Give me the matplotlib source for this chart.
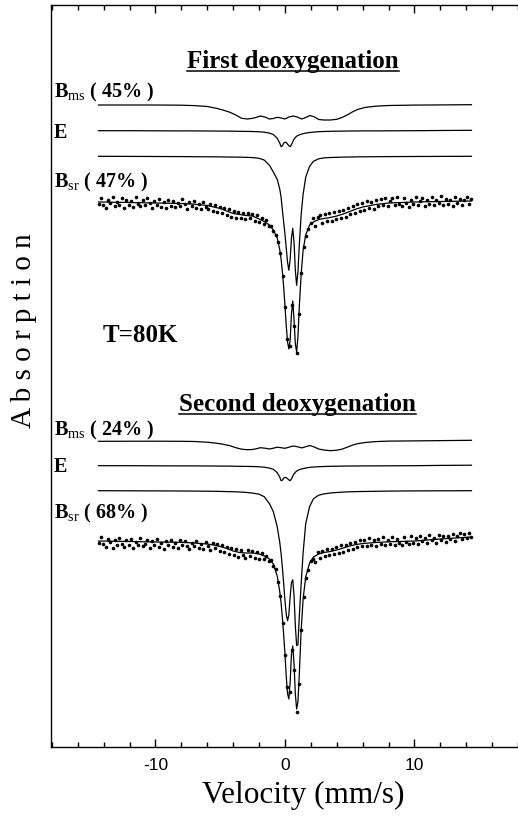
import numpy as np
import matplotlib
matplotlib.use('Agg')
import matplotlib.pyplot as plt
from matplotlib.lines import Line2D
from matplotlib.ticker import MultipleLocator, FixedLocator

plt.rcParams['font.family'] = ['Liberation Serif', 'DejaVu Serif']
plt.rcParams['mathtext.fontset'] = 'custom'
plt.rcParams['mathtext.rm'] = 'Liberation Serif'
plt.rcParams['mathtext.it'] = 'Liberation Serif:italic'
plt.rcParams['mathtext.bf'] = 'Liberation Serif:bold'

# velocity grid of the fitted sub-spectra (mm/s)
v_fit = [-14.4, -12, -10, -8, -7, -6, -5.5, -5, -4.5, -4, -3.5, -3, -2.5, -2, -1.6,
         -1.2, -0.9, -0.6, -0.4, -0.3, -0.2, -0.1, 0.0, 0.1, 0.2, 0.3, 0.4, 0.5, 0.6,
         0.7, 0.8, 0.9, 1.0, 1.1, 1.25, 1.4, 1.6, 1.9, 2.2, 2.6, 3.0, 3.5, 4.0, 4.5,
         5.0, 5.5, 6.0, 7.0, 8.0, 10.0, 12.0, 14.4]
v_bms = [-14.4, -10, -8, -7, -6, -5.3, -4.8, -4.25, -3.8, -3.35, -2.9, -2.5, -2.2, -1.9,
         -1.55, -1.2, -0.9, -0.6, -0.3, 0.0, 0.3, 0.64, 0.95, 1.3, 1.6, 1.93, 2.3, 2.6,
         3.0, 3.5, 4.0, 4.4, 4.8, 5.2, 5.6, 6.2, 7.0, 8.0, 10.0, 14.4]

# absorption below each baseline (arbitrary units), first deoxygenation
bms_1 = [0, 0, 0.2, 0.6, 1.5, 3.3, 5.0, 7.3, 10, 13.3, 14, 13.3, 12.3, 11, 12, 14, 13.5,
         12.3, 13, 14, 12, 11, 12, 14, 12.5, 10.5, 12, 14.5, 15, 15, 14.3, 12.5, 10, 7,
         4.5, 2.4, 1.2, 0.5, 0.1, -0.3]
e_1 = [0, 0, 0.1, 0.2, 0.2, 0.3, 0.3, 0.4, 0.4, 0.5, 0.6, 0.7, 0.8, 1.1, 1.5, 2.4, 3.8,
       7.5, 12.5, 16, 15, 12.5, 11.5, 11.8, 13.5, 15, 16, 14, 11, 8.5, 6.8, 5.5, 4.8,
       4.2, 3.5, 3.0, 2.4, 1.8, 1.4, 1.0, 0.8, 0.6, 0.5, 0.4, 0.3, 0.3, 0.2, 0.2, 0.1,
       0, -0.2, -0.4]
bsr_1 = [0, 0.1, 0.2, 0.3, 0.4, 0.5, 0.5, 0.6, 0.7, 0.8, 0.9, 1.0, 1.3, 2, 3.8, 9, 15.7,
         23, 33, 41, 54, 66, 78, 92, 106, 114, 103, 82, 72, 86, 114, 129, 116, 90, 58,
         38, 21, 10, 5, 2.5, 1.6, 1.2, 1.0, 0.8, 0.7, 0.6, 0.5, 0.4, 0.3, 0.2, 0.1, 0]
fit_1 = [0, 0.5, 1, 1.5, 2.2, 3.5, 5, 6.5, 9, 11.5, 12.5, 13.5, 14, 17, 19.5, 23, 28, 36,
         48, 57, 70, 85, 104, 124, 140, 147, 138, 112, 99, 118, 142, 150, 135, 106, 72,
         48, 33, 23, 20, 17.5, 16.5, 15.5, 14, 12, 9.5, 7, 5, 2.5, 1, 0, -0.5, -1]

# second deoxygenation
bms_2 = [0.6, 0.5, 0.6, 0.8, 1.5, 2.5, 3.5, 5, 7, 8.5, 9, 8.8, 8, 7, 7.5, 8.3, 7.5, 6.5,
         7, 7.6, 6.5, 5.3, 6, 7.2, 6, 4.8, 6.5, 8.3, 9.3, 10, 9.5, 8.5, 6.5, 4.5, 3, 1.8,
         0.9, 0.4, 0.2, -0.4]
e_2 = [0, 0, 0.1, 0.2, 0.2, 0.3, 0.3, 0.4, 0.4, 0.5, 0.6, 0.7, 0.8, 1.1, 1.5, 2.4, 3.6,
       7, 11.5, 15, 14.5, 12.5, 11.7, 12, 13, 14.2, 15, 13.2, 10.5, 8.2, 6.6, 5.4, 4.6,
       4.0, 3.4, 2.9, 2.3, 1.7, 1.3, 1.0, 0.8, 0.6, 0.5, 0.4, 0.3, 0.3, 0.2, 0.2, 0.1,
       0, -0.3, -0.5]
bsr_2 = [0, 0.1, 0.2, 0.3, 0.4, 0.5, 0.6, 0.7, 0.9, 1.0, 1.3, 1.7, 2.4, 3.5, 6, 13, 21,
         36, 52, 63, 77, 93, 110, 124, 130, 124, 106, 92, 89, 105, 135, 155, 154, 127,
         93, 62, 33, 16, 8, 4.5, 3.2, 2.3, 1.8, 1.4, 1.1, 0.9, 0.8, 0.6, 0.4, 0.2, 0.1, 0]
fit_2 = [-1, -0.5, 0, 0.3, 1, 2, 3, 4.5, 6.5, 9, 10.5, 11, 11, 12, 14, 17, 22, 34, 50,
         61, 76, 93, 112, 135, 152, 157, 140, 112, 104, 122, 152, 167, 160, 134, 88, 57,
         35, 21, 15, 12, 10.5, 9.5, 8, 6, 4, 2.5, 1.5, 0.5, -0.2, -1, -3, -5]

# measured points, 161 equally spaced channels from -14.4 to 14.4 mm/s
v_data = np.linspace(-14.4, 14.4, 161)
data_1 = [2, -4, 3, 6, -2, 1, -5, 4, 0, 3,
          -4, 6, -2, 3, -1, 5, -5, 2, 4, -2,
          3, -4, 1, 6, -1, 3, -3, 5, 0, 6,
          -2, 4, -1, 5, 1, 4, -3, 2, 7, 0,
          4, -1, 6, 2, 7, 0, 5, 7, 2, 9,
          3, 10, 5, 11, 6, 13, 7, 15, 9, 16,
          10, 16, 11, 17, 11, 16, 12, 19, 13, 20,
          16, 22, 18, 24, 24, 29, 33, 40, 51, 74,
          105, 137, 144, 103, 124, 151, 112, 71, 45, 34,
          27, 21, 16, 24, 15, 13, 21, 12, 19, 11,
          19, 10, 17, 9, 16, 8, 15, 6, 12, 4,
          11, 2, 9, 1, 8, -1, 6, 0, 7, -2,
          4, -3, 3, -4, 4, -1, -4, 3, -5, 2,
          4, -4, 1, 5, -2, 2, -5, 3, -1, -4,
          4, -2, 2, -5, 3, -2, 1, -6, 3, -3,
          2, -2, 4, -5, 1, -3, 3, -2, -5, 2, -3]
data_2 = [1, -5, 2, 5, -3, 0, 6, -2, 3, -4,
          2, 5, -2, 3, -3, 6, 0, 3, -4, 4,
          2, -2, 6, -1, 3, -3, 5, 1, 7, -1,
          3, -2, 5, 1, 6, -2, 3, -1, 4, 7,
          1, 4, -1, 6, 2, 7, 0, 4, 8, 1,
          6, 2, 9, 3, 10, 5, 12, 6, 13, 7,
          15, 8, 13, 16, 8, 14, 9, 16, 10, 17,
          11, 17, 14, 19, 18, 24, 27, 40, 54, 81,
          113, 145, 150, 108, 128, 170, 142, 88, 55, 36,
          28, 19, 17, 20, 10, 16, 9, 14, 7, 13,
          7, 12, 5, 11, 3, 10, 3, 8, 1, 7,
          0, 5, -2, 4, -2, 4, -4, 3, -2, 4,
          -3, 2, -5, 3, -2, 2, -5, 3, -3, 1,
          3, -5, 0, 2, -6, 1, -4, 2, -6, -1,
          -4, 1, -7, -2, -4, 1, -7, -2, -6, 0,
          -6, -3, -8, -1, -6, -9, -3, -8, -4, -9, -5]

labels_1 = [r'B$_{\mathrm{ms}}$ ( 45% )', 'E', r'B$_{\mathrm{sr}}$ ( 47% )']
labels_2 = [r'B$_{\mathrm{ms}}$ ( 24% )', 'E', r'B$_{\mathrm{sr}}$ ( 68% )']
titles = ['First deoxygenation', 'Second deoxygenation']

# stacking offsets of the baselines
off_1 = {'bms': 642, 'e': 616.3, 'bsr': 590.7, 'fit': 545}
off_2 = {'bms': 306.3, 'e': 281.3, 'bsr': 256.3, 'fit': 205}

fig = plt.figure(figsize=(5.18, 8.2), dpi=100)
ax = fig.add_axes([51 / 518, 72 / 820, 469 / 518, 742 / 820])
ax.set_xlim(-18.07, 18.15)
ax.set_ylim(0, 742)

lw = 0.9
for off, bms, e, bsr, fit, data in [(off_1, bms_1, e_1, bsr_1, fit_1, data_1),
                                    (off_2, bms_2, e_2, bsr_2, fit_2, data_2)]:
    ax.plot(v_bms, off['bms'] - np.array(bms), color='black', lw=lw)
    ax.plot(v_fit, off['e'] - np.array(e), color='black', lw=lw)
    ax.plot(v_fit, off['bsr'] - np.array(bsr), color='black', lw=lw)
    ax.plot(v_data, off['fit'] - np.array(data), 'o', color='black', ms=2.6, mew=0)
    ax.plot(v_fit, off['fit'] - np.array(fit), color='black', lw=lw)

# labels of the sub-spectra
for lab, y in zip(labels_1 + labels_2, [651, 610, 561, 313, 276, 230]):
    ax.text(-17.84, y, lab, fontsize=14.5, fontweight='bold', va='baseline', ha='left')

ax.text(-14.05, 406, 'T=80K', fontsize=18, fontweight='bold', va='baseline', ha='left')

title_texts = []
for t, x, y in zip(titles, [0.62, 0.97], [680, 337]):
    title_texts.append(ax.text(x, y, t, fontsize=18, fontweight='bold',
                               va='baseline', ha='center'))

ax.text(-20.15, 417, 'A b s o r p t i o n', fontsize=21, rotation=90,
        va='center', ha='center', clip_on=False)
ax.text(1.39, -47, 'Velocity (mm/s)', fontsize=22.5, va='center', ha='center',
        clip_on=False)

# axes styling
ax.spines['right'].set_visible(False)
for s in ['top', 'bottom', 'left']:
    ax.spines[s].set_linewidth(1.0)
ax.set_yticks([])
ax.xaxis.set_major_locator(FixedLocator([-10, 0, 10]))
ax.xaxis.set_minor_locator(MultipleLocator(2))
ax.set_xticklabels(['-10', '0', '10'], fontfamily='Liberation Sans', fontsize=12.5)
ax.tick_params(axis='x', which='both', direction='in', top=True, width=1.0, pad=7)
ax.tick_params(axis='x', which='major', length=6)
ax.tick_params(axis='x', which='minor', length=3.5)

# underline the panel titles
fig.canvas.draw()
r = fig.canvas.get_renderer()
for t in title_texts:
    bb = t.get_window_extent(r)
    yb = ax.transData.transform((0, t.get_position()[1]))[1] - 4
    fig.add_artist(Line2D([bb.x0 / fig.bbox.width, bb.x1 / fig.bbox.width],
                          [yb / fig.bbox.height, yb / fig.bbox.height],
                          transform=fig.transFigure, color='black', lw=1.1))

fig.savefig('out.png', dpi=100)
